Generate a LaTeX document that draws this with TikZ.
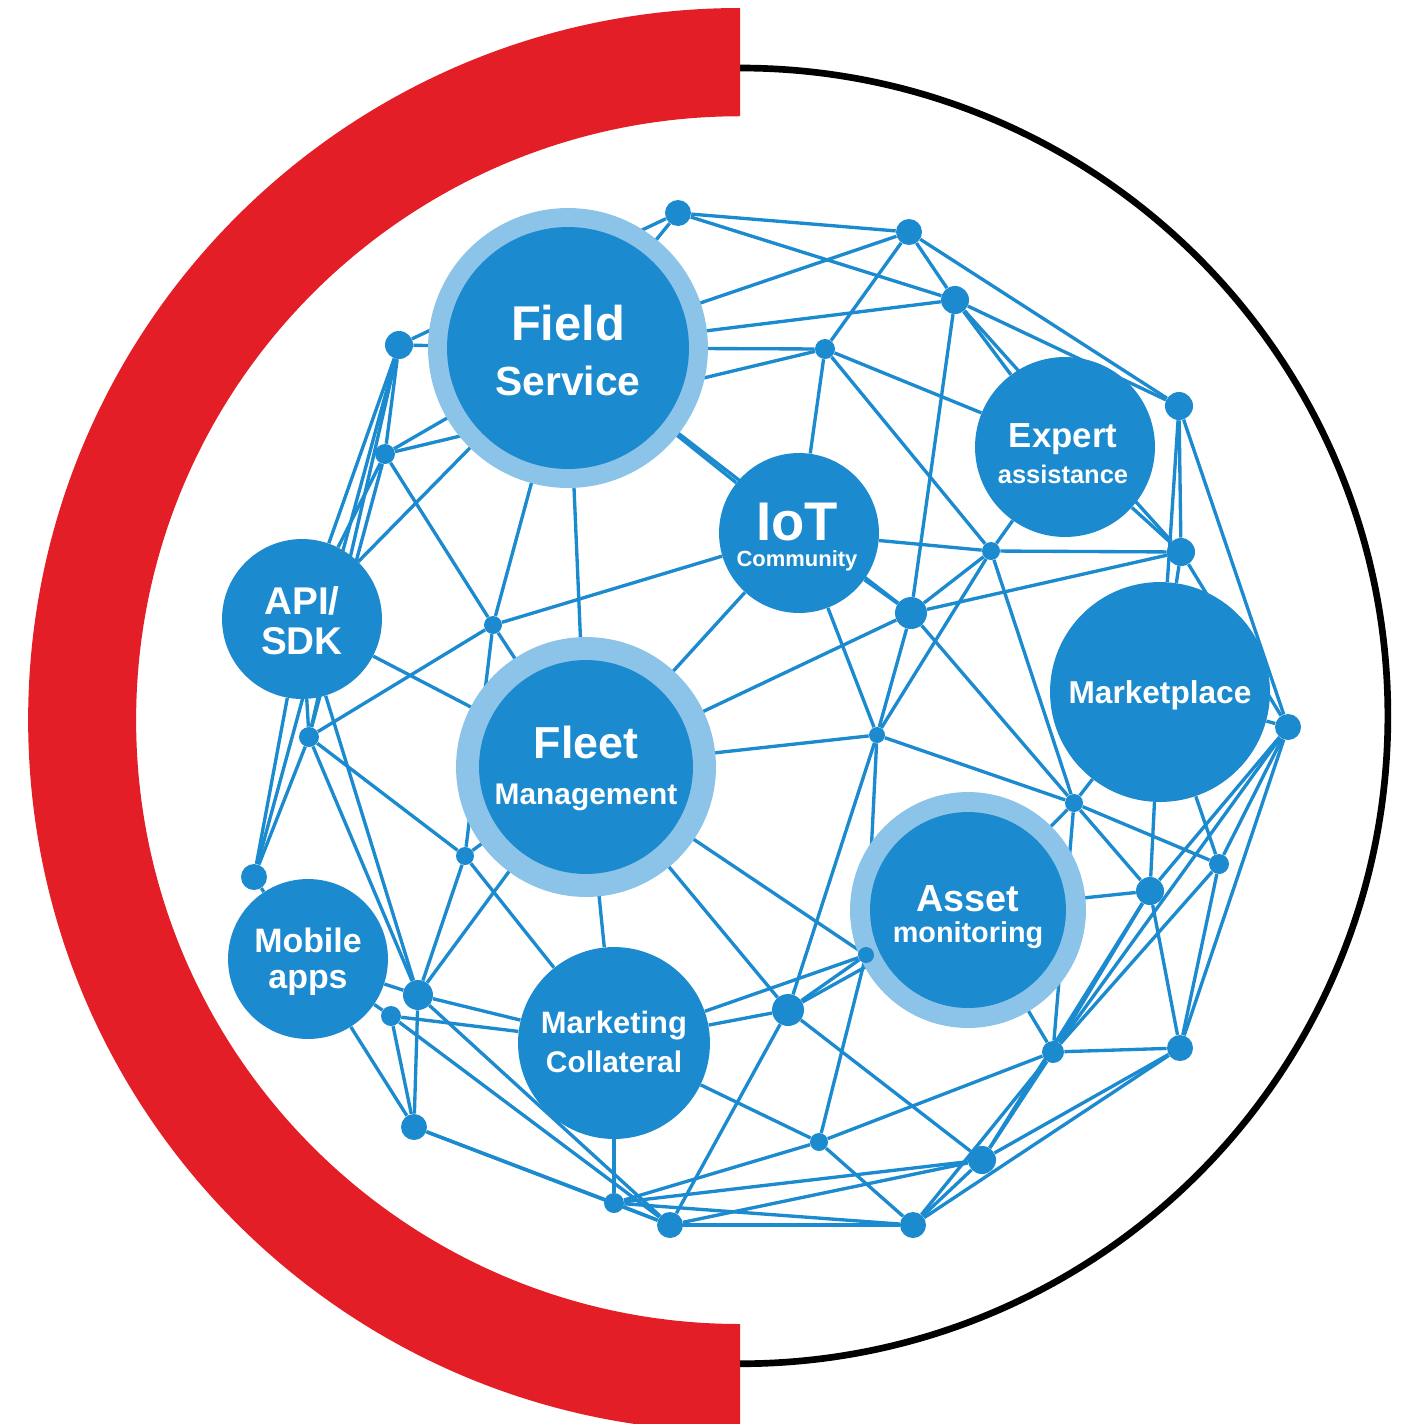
\documentclass[tikz,border=0pt]{standalone}
\usepackage{fontspec}
\setmainfont{Liberation Sans}
\definecolor{nblue}{RGB}{27,138,207}
\definecolor{hblue}{RGB}{140,195,232}
\definecolor{rred}{RGB}{228,30,38}
\pgfdeclarelayer{back}
\pgfdeclarelayer{edges}
\pgfsetlayers{back,edges,main}
\newcommand\fsz[1]{\fontsize{#1pt}{#1pt}\selectfont\bfseries}
\tikzset{
  hub/.style={circle, fill=nblue, inner sep=0pt, minimum size=#1*0.04cm},
  halo/.style={circle, fill=hblue, inner sep=0pt, minimum size=#1*0.04cm},
  dot/.style={circle, fill=nblue, inner sep=0pt, minimum size=#1*0.04cm},
  lbl/.style={text=white, anchor=base, inner sep=0pt},
  link/.style={draw=nblue, line width=1.9pt}
}
\begin{document}
\begin{tikzpicture}[x=0.02cm,y=-0.02cm]
\useasboundingbox (0,0) rectangle (1402,1424);
\begin{pgfonlayer}{back}
\clip (0,0) rectangle (1402,1424);
\fill[rred] (740,8) arc[start angle=90,end angle=270,radius=14.24cm] -- (740,1324) arc[start angle=270,end angle=90,radius=12.08cm] -- cycle;
\draw[line width=3.8pt] (740,68) arc[start angle=90,end angle=-90,radius=12.96cm];
\end{pgfonlayer}
% halos
\node[halo=140] (hFS) at (568,348) {};
\node[halo=130] (hFleet) at (586,767) {};
\node[halo=118] (hAsset) at (968,910) {};
% hubs
\node[hub=121] (FS) at (568,348) {};
\node[hub=80] (IoT) at (799,533) {};
\node[hub=90] (Expert) at (1065,447) {};
\node[hub=80] (API) at (302,619) {};
\node[hub=107] (Fleet) at (586,767) {};
\node[hub=110] (Market) at (1160,692) {};
\node[hub=98] (Asset) at (968,910) {};
\node[hub=80] (Mobile) at (308,959) {};
\node[hub=96] (Mktg) at (614,1043) {};
% dots
\node[dot=13] (d1) at (678,213) {};
\node[dot=14] (d2) at (399,345) {};
\node[dot=10] (d3) at (385,454) {};
\node[dot=9] (d4) at (493,625) {};
\node[dot=13] (d5) at (909,232) {};
\node[dot=14] (d6) at (955,300) {};
\node[dot=10] (d7) at (825,349) {};
\node[dot=14] (d8) at (1179,406) {};
\node[dot=9] (d9) at (991,551) {};
\node[dot=14] (d10) at (1181,552) {};
\node[dot=16] (d11) at (911,613) {};
\node[dot=8] (d12) at (877,735) {};
\node[dot=13] (d13) at (1288,727) {};
\node[dot=10] (d14) at (309,737) {};
\node[dot=9] (d15) at (1074,803) {};
\node[dot=9] (d16) at (465,856) {};
\node[dot=10] (d17) at (1219,864) {};
\node[dot=13] (d18) at (254,877) {};
\node[dot=14] (d19) at (1150,891) {};
\node[dot=8] (d20) at (866,955) {};
\node[dot=15] (d21) at (418,995) {};
\node[dot=10] (d22) at (391,1016) {};
\node[dot=16] (d23) at (788,1010) {};
\node[dot=11] (d24) at (1053,1052) {};
\node[dot=13] (d25) at (1180,1048) {};
\node[dot=13] (d26) at (414,1127) {};
\node[dot=9] (d27) at (819,1142) {};
\node[dot=14] (d28) at (982,1160) {};
\node[dot=10] (d29) at (614,1203) {};
\node[dot=13] (d30) at (670,1225) {};
\node[dot=13] (d31) at (913,1225) {};
% labels
\node[lbl,font=\fsz{27.8}] (tFS1) at (568,340) {Field};
\node[lbl,font=\fsz{23.2}] (tFS2) at (568,395) {Service};
\node[lbl,font=\fsz{31}] (tIoT1) at (797,540) {IoT};
\node[lbl,font=\fsz{12.5}] (tIoT2) at (797,566) {Community};
\node[lbl,font=\fsz{19.8}] (tEx1) at (1063,447) {Expert};
\node[lbl,font=\fsz{14.5}] (tEx2) at (1063,483) {assistance};
\node[lbl,font=\fsz{22}] (tAPI1) at (302,614) {API/};
\node[lbl,font=\fsz{22}] (tAPI2) at (302,654) {SDK};
\node[lbl,font=\fsz{25.5}] (tFl1) at (586,758) {Fleet};
\node[lbl,font=\fsz{17}] (tFl2) at (586,804) {Management};
\node[lbl,font=\fsz{18}] (tMp) at (1160,703) {Marketplace};
\node[lbl,font=\fsz{21.5}] (tAs1) at (968,911) {Asset};
\node[lbl,font=\fsz{16.4}] (tAs2) at (968,942) {monitoring};
\node[lbl,font=\fsz{19.3}] (tMo1) at (308,952) {Mobile};
\node[lbl,font=\fsz{19.3}] (tMo2) at (308,988) {apps};
\node[lbl,font=\fsz{17.6}] (tMk1) at (614,1033) {Marketing};
\node[lbl,font=\fsz{17}] (tMk2) at (614,1072) {Collateral};
% edges
\begin{pgfonlayer}{edges}
\foreach \a/\b in {
 d1/FS, d1/d5, d1/d6, d1/d2,
 d2/FS, d2/d3, d2/API, d2/d14, d2/d18,
 d3/FS, d3/d4, d3/API, d3/d14, d3/d7,
 FS/d5, FS/d6, FS/d7, FS/API, FS/d4, FS/Fleet, FS/IoT, FS/d11,
 d5/d6, d5/d7, d5/d8,
 d6/d8, d6/Expert, d6/d10, d6/d11,
 d7/Expert, d7/IoT, d7/d9,
 d8/d10, d8/d13, d8/Market,
 Expert/d9, Expert/d10,
 d9/IoT, d9/d10, d9/d11, d9/d12, d9/d15,
 d10/d11, d10/Market, d10/d13,
 d11/IoT, d11/Fleet, d11/d12, d11/d15,
 d4/IoT, d4/Fleet, d4/d14, d4/d16,
 API/Fleet, API/d18, API/d21, API/d14,
 d14/d16, d14/d18, d14/d21,
 d16/Fleet, d16/d21, d16/Mktg,
 d18/Mobile,
 Mobile/d21, Mobile/d22, Mobile/d26,
 Fleet/d21, Fleet/Mktg, Fleet/d23, Fleet/d20, Fleet/d12, Fleet/IoT,
 IoT/d12,
 d12/d15, d12/d20, d12/d23,
 d13/Market, d13/d17, d13/d19, d13/d24, d13/d25,
 d15/Market, d15/Asset, d15/d19, d15/d17, d15/d24,
 Market/d19, Market/d17,
 d17/d24, d17/d25,
 d19/Asset, d19/d24, d19/d25, d19/d28,
 d20/Asset, d20/d23, d20/d27, d20/Mktg,
 d23/Mktg, d23/Asset, d23/d30, d23/d28,
 d24/Asset, d24/d25, d24/d27, d24/d28, d24/d31,
 d25/d28, d25/d31,
 d27/Mktg, d27/d31, d27/d29,
 d28/d29, d28/d30, d28/d31,
 d21/Mktg, d21/d26, d21/d30,
 d22/Mktg, d22/d26, d22/d30,
 d26/d29, d26/d30,
 d29/Mktg, d29/d30, d29/d31,
 d30/d31}
 \draw[link] (\a) -- (\b);
\end{pgfonlayer}
\end{tikzpicture}
\end{document}
